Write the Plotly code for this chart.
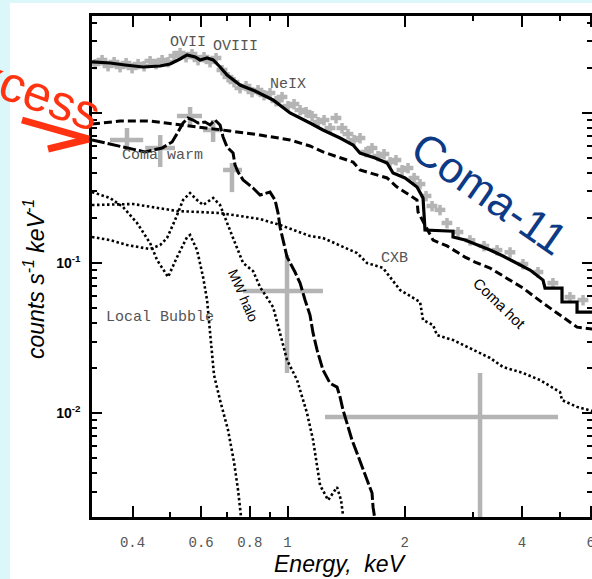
import math
import plotly.graph_objects as go

# ---- spectrum components (energy in keV, counts s^-1 keV^-1) ----
total_E = [0.3147, 0.3501, 0.3827, 0.4256, 0.4707, 0.4993, 0.5297, 0.5520, 0.5792, 0.5962,
           0.6214, 0.6443, 0.6710, 0.6994, 0.7551, 0.8254, 0.9180, 1.015, 1.142, 1.233,
           1.364, 1.473, 1.535, 1.678, 1.801, 1.866, 2.003, 2.150, 2.228,
           2.254, 2.660, 2.660, 2.856, 3.083, 3.311, 3.574, 3.884, 4.194, 4.529, 4.583,
           5.067, 5.067, 5.538, 5.538, 6.343]
total_V = [2.188, 2.154, 2.089, 2.026, 2.057, 2.122, 2.291, 2.436, 2.362, 2.256,
           2.326, 2.256, 2.026, 1.792, 1.537, 1.402, 1.221, 1.0, 0.858, 0.770,
           0.681, 0.612, 0.541, 0.501, 0.464, 0.398, 0.369, 0.321, 0.271,
           0.166, 0.163, 0.149, 0.1423, 0.1318, 0.1221, 0.1113, 0.1, 0.0898, 0.0770, 0.0681,
           0.0681, 0.0550, 0.0550, 0.0471, 0.0471]

hot_E = [0.3147, 0.3715, 0.4436, 0.5143, 0.5962, 0.7118, 0.8500, 1.015, 1.142, 1.233,
         1.473, 1.535, 1.801, 1.910, 2.150, 2.163, 2.364, 2.567, 2.856, 3.030,
         3.311, 3.661, 4.023, 4.529, 5.067, 5.538, 6.343]
hot_V = [0.845, 0.884, 0.884, 0.845, 0.807, 0.759, 0.713, 0.661, 0.603, 0.550,
         0.471, 0.417, 0.369, 0.321, 0.263, 0.219, 0.142, 0.130, 0.1096, 0.1015,
         0.0926, 0.0794, 0.0681, 0.0541, 0.0437, 0.0374, 0.0358]

warm_E = [0.3147, 0.3715, 0.4306, 0.4763, 0.5053, 0.5234, 0.5392, 0.5553, 0.5720, 0.5891,
          0.6140, 0.6324, 0.6514, 0.6710, 0.6830, 0.6994, 0.7246, 0.7332, 0.7463, 0.7689,
          0.8155, 0.8500, 0.9016, 0.9288, 0.9454, 0.9565, 0.9737, 0.9970, 1.045, 1.077,
          1.109, 1.142, 1.163, 1.191, 1.233, 1.286, 1.340, 1.364, 1.388, 1.430,
          1.464, 1.508, 1.553, 1.600, 1.648, 1.658, 1.678]
warm_V = [0.661, 0.603, 0.550, 0.584, 0.641, 0.747, 0.858, 0.926, 0.898, 0.858,
          0.871, 0.832, 0.898, 0.832, 0.692, 0.593, 0.541, 0.450, 0.404, 0.358,
          0.316, 0.284, 0.297, 0.263, 0.2154, 0.1738, 0.1423, 0.1096, 0.0871, 0.0736,
          0.0567, 0.0450, 0.0341, 0.0263, 0.0194, 0.0158, 0.0149, 0.0128, 0.0105, 0.00806,
          0.00661, 0.00541, 0.00437, 0.00358, 0.00293, 0.00236, 0.00193]

cxb_E = [0.3147, 0.4012, 0.5204, 0.6710, 0.8500, 0.9565, 1.142, 1.233, 1.508, 1.600,
         1.759, 1.833, 1.945, 2.189, 2.228, 2.364, 2.420, 2.660, 2.995, 3.311,
         3.574, 4.023, 4.449, 5.008, 5.067, 5.538, 6.343]
cxb_V = [0.2436, 0.2474, 0.2222, 0.2154, 0.1965, 0.1792, 0.1514, 0.1468, 0.1166, 0.1,
         0.0926, 0.0807, 0.0661, 0.0550, 0.0417, 0.0386, 0.0331, 0.0307, 0.0263, 0.0233,
         0.0203, 0.0185, 0.0166, 0.0138, 0.0122, 0.0110, 0.0100]

lb_E = [0.3147, 0.3501, 0.3781, 0.4108, 0.4436, 0.4624, 0.4934, 0.5204, 0.5520, 0.5619,
        0.5856, 0.6069, 0.6214, 0.6324, 0.6475, 0.6710, 0.7034, 0.7288, 0.7463, 0.7597]
lb_V = [0.2974, 0.2713, 0.2362, 0.1849, 0.1359, 0.1047, 0.0807, 0.1096, 0.1491, 0.1538,
        0.1221, 0.0807, 0.0567, 0.0341, 0.0179, 0.0122, 0.0077, 0.00471, 0.00307, 0.00203]

mw_E = [0.3147, 0.3501, 0.3873, 0.4436, 0.4707, 0.4904, 0.5143, 0.5392, 0.5619, 0.5856,
        0.6069, 0.6443, 0.6710, 0.6994, 0.7246, 0.7689, 0.8155, 0.8500, 0.8859, 0.9180,
        0.9565, 0.9970, 1.058, 1.122, 1.163, 1.212, 1.271, 1.340, 1.372, 1.388]
mw_V = [0.1491, 0.1423, 0.1318, 0.1240, 0.1318, 0.1468, 0.1936, 0.263, 0.2929, 0.263,
        0.2436, 0.2713, 0.2436, 0.1876, 0.1468, 0.1, 0.0885, 0.0692, 0.0584, 0.0509,
        0.0341, 0.0226, 0.0166, 0.0100, 0.00661, 0.00331, 0.00263, 0.00321, 0.00263, 0.00209]

# observed spectrum (grey bins)
data_E = [0.3205, 0.3340, 0.3461, 0.3586, 0.3715, 0.3850, 0.3989, 0.4133, 0.4282, 0.4436,
          0.4597, 0.4763, 0.4934, 0.5112, 0.5297, 0.5488, 0.5686, 0.5891, 0.6104, 0.6324,
          0.6552, 0.6789, 0.7034, 0.7288, 0.7551, 0.7824, 0.8106, 0.8399, 0.8702, 0.9016,
          0.9343, 0.9680, 1.003, 1.039, 1.077, 1.116, 1.156, 1.198, 1.241, 1.286,
          1.332, 1.380, 1.430, 1.482, 1.535, 1.590, 1.648, 1.707, 1.769, 1.833,
          1.899, 1.968, 2.039, 2.113, 2.189, 2.268, 2.350, 2.463, 2.567, 2.740,
          2.941, 3.195, 3.451, 3.726, 4.023, 4.396, 4.803, 5.312, 5.738]
data_V = [2.122, 2.256, 2.057, 2.188, 2.026, 2.154, 1.995, 2.122, 2.057, 2.222,
          2.122, 2.256, 2.188, 2.399, 2.512, 2.362, 2.474, 2.256, 2.362, 2.188,
          2.326, 1.935, 1.738, 1.609, 1.468, 1.514, 1.380, 1.423, 1.318, 1.359,
          1.202, 1.279, 1.113, 1.148, 1.047, 1.015, 0.955, 0.871, 0.898, 0.794,
          0.926, 0.794, 0.724, 0.661, 0.681, 0.550, 0.584, 0.517, 0.533, 0.471,
          0.486, 0.417, 0.430, 0.369, 0.336, 0.280, 0.240, 0.226, 0.185, 0.161,
          0.142, 0.130, 0.122, 0.118, 0.0985, 0.0871, 0.0736, 0.0593, 0.0567]

# residual points with error bars (centre, lower, upper)
res_E = [0.387, 0.471, 0.562, 0.644, 0.720, 0.997, 3.121]
res_E_lo = [0.350, 0.431, 0.520, 0.607, 0.683, 0.769, 1.248]
res_E_hi = [0.426, 0.514, 0.603, 0.679, 0.764, 1.233, 4.949]
res_V = [0.661, 0.584, 0.955, 0.770, 0.417, 0.0651, 0.0094]
res_V_lo = [0.567, 0.437, 0.832, 0.641, 0.297, 0.0185, 0.0015]
res_V_hi = [0.794, 0.713, 1.096, 0.898, 0.464, 0.113, 0.0185]

x_ticks = [0.4, 0.6, 0.8, 1, 2, 4, 6]
x_tick_text = ["0.4", "0.6", "0.8", "1", "2", "4", "6"]
x_minor = [0.5, 0.7, 0.9, 3, 5]
y_ticks = [0.01, 0.1, 1]
y_tick_text = ["<b>10<sup>-2</sup></b>", "<b>10<sup>-1</sup></b>", " "]
y_minor = [0.003, 0.004, 0.005, 0.006, 0.007, 0.008, 0.009,
           0.02, 0.03, 0.04, 0.05, 0.06, 0.07, 0.08, 0.09,
           0.2, 0.3, 0.4, 0.5, 0.6, 0.7, 0.8, 0.9, 2, 3, 4]

X_RANGE = [math.log10(0.3147), math.log10(6.05)]
Y_RANGE = [math.log10(0.00203), math.log10(4.43)]

# ---- page geometry (pixels) ----
W, H = 592, 579
PL, PR, PT, PB = 92, 592, 16, 517


def paper(px, py):
    return (px - PL) / (PR - PL), (PB - py) / (PB - PT)


GREY = "#b4b4b4"
fig = go.Figure()

fig.add_trace(go.Scatter(
    x=data_E, y=data_V, mode="markers", marker=dict(size=1, color=GREY),
    error_x=dict(type="percent", value=3.2, color=GREY, thickness=4.5, width=0),
    error_y=dict(type="percent", value=8, color=GREY, thickness=3.5, width=0),
    showlegend=False, hoverinfo="skip"))

fig.add_trace(go.Scatter(
    x=res_E, y=res_V, mode="markers", marker=dict(size=1, color=GREY),
    error_x=dict(type="data", symmetric=False,
                 array=[h - c for h, c in zip(res_E_hi, res_E)],
                 arrayminus=[c - l for c, l in zip(res_E, res_E_lo)],
                 color=GREY, thickness=4.5, width=0),
    error_y=dict(type="data", symmetric=False,
                 array=[h - c for h, c in zip(res_V_hi, res_V)],
                 arrayminus=[c - l for c, l in zip(res_V, res_V_lo)],
                 color=GREY, thickness=4.5, width=0),
    showlegend=False, hoverinfo="skip"))

dot = dict(color="black", width=2.6, dash="2.5px,2.5px")
for xs, ys in [(cxb_E, cxb_V), (lb_E, lb_V), (mw_E, mw_V)]:
    fig.add_trace(go.Scatter(x=xs, y=ys, mode="lines", line=dot,
                             showlegend=False, hoverinfo="skip"))

fig.add_trace(go.Scatter(x=warm_E, y=warm_V, mode="lines",
                         line=dict(color="black", width=3, dash="13px,3px"),
                         showlegend=False, hoverinfo="skip"))
fig.add_trace(go.Scatter(x=hot_E, y=hot_V, mode="lines",
                         line=dict(color="black", width=3, dash="8px,4px"),
                         showlegend=False, hoverinfo="skip"))
fig.add_trace(go.Scatter(x=total_E, y=total_V, mode="lines",
                         line=dict(color="black", width=3.2),
                         showlegend=False, hoverinfo="skip"))

# helper trace so the mirrored top/right axes get drawn
fig.add_trace(go.Scatter(x=[1], y=[0.1], xaxis="x2", yaxis="y2", mode="markers",
                         marker=dict(opacity=0), showlegend=False, hoverinfo="skip"))

minor_x = dict(tickvals=x_minor, ticks="inside", ticklen=5, tickwidth=2, tickcolor="black")
minor_y = dict(tickvals=y_minor, ticks="inside", ticklen=5, tickwidth=2, tickcolor="black")

fig.update_layout(
    width=W, height=H, autosize=False,
    margin=dict(l=PL, r=W - PR, t=PT, b=H - PB, autoexpand=False),
    paper_bgcolor="#dcf7f9", plot_bgcolor="white",
    xaxis=dict(type="log", range=X_RANGE, showline=True, linewidth=2.5, linecolor="black",
               ticks="inside", ticklen=11, tickwidth=2, tickcolor="black",
               tickvals=x_ticks, ticktext=x_tick_text, minor=minor_x,
               tickfont=dict(family="Liberation Mono", size=14, color="#555555"),
               ticklabelstandoff=10, ticklabeloverflow="allow", automargin=False,
               showgrid=False, zeroline=False),
    yaxis=dict(type="log", range=Y_RANGE, showline=True, linewidth=2.5, linecolor="black",
               ticks="inside", ticklen=10, tickwidth=2, tickcolor="black",
               tickvals=y_ticks, ticktext=y_tick_text, minor=minor_y,
               tickfont=dict(family="Liberation Sans", size=14, color="black"),
               ticklabelstandoff=6, automargin=False, showgrid=False, zeroline=False),
    xaxis2=dict(type="log", range=X_RANGE, overlaying="x", side="top", anchor="y",
                showline=True, linewidth=2.5, linecolor="black",
                ticks="inside", ticklen=11, tickwidth=2, tickcolor="black",
                tickvals=x_ticks, showticklabels=False, minor=minor_x, automargin=False,
                showgrid=False, zeroline=False),
    yaxis2=dict(type="log", range=Y_RANGE, overlaying="y", side="right", anchor="x",
                showline=False, ticks="inside", ticklen=10, tickwidth=2, tickcolor="black",
                tickvals=y_ticks, showticklabels=False, minor=minor_y, automargin=False,
                showgrid=False, zeroline=False),
)

# white page panel
x0, y0 = paper(10, 3)
x1, y1 = paper(600, 590)
fig.add_shape(type="rect", xref="paper", yref="paper", x0=x0, y0=y1, x1=x1, y1=y0,
              fillcolor="white", line=dict(width=0), layer="below")

# red arrow
ax0, ay0 = paper(22, 120)
tipx, tipy = paper(89, 139)
bx0, by0 = paper(48, 149)
for sx, sy in [(ax0, ay0), (bx0, by0)]:
    fig.add_shape(type="line", xref="paper", yref="paper", x0=sx, y0=sy, x1=tipx, y1=tipy,
                  line=dict(color="#ff3311", width=7))

MONO = "Liberation Mono"
SANS = "Liberation Sans"


def label(text, px, py, size, color="#555555", family=MONO, angle=0):
    x, y = paper(px, py)
    fig.add_annotation(text=text, x=x, y=y, xref="paper", yref="paper", showarrow=False,
                       textangle=angle, xanchor="center", yanchor="middle",
                       font=dict(family=family, size=size, color=color))


label("OVII", 188, 42, 15)
label("OVIII", 235, 47, 15)
label("NeIX", 288, 85, 15)
label("Coma warm", 162, 155, 15)
label("CXB", 394, 258, 15)
label("Local Bubble", 160, 317, 15)
label("MW halo", 243, 295, 14, color="black", family=SANS, angle=67)
label("Coma hot", 500, 303, 15, color="black", family=SANS, angle=44)
label("Coma-11", 490, 193, 44, color="#0d3a85", family=SANS, angle=35)
label("Excess", 22, 88, 50, color="#ff3311", family=SANS, angle=20)
label("<i>Energy,  keV</i>", 340, 564, 23, color="black", family=SANS)
label("<i>counts s<sup>-1</sup> keV<sup>-1</sup></i>", 34, 279, 23, color="black",
      family=SANS, angle=-90)

fig.write_html("out.html")
